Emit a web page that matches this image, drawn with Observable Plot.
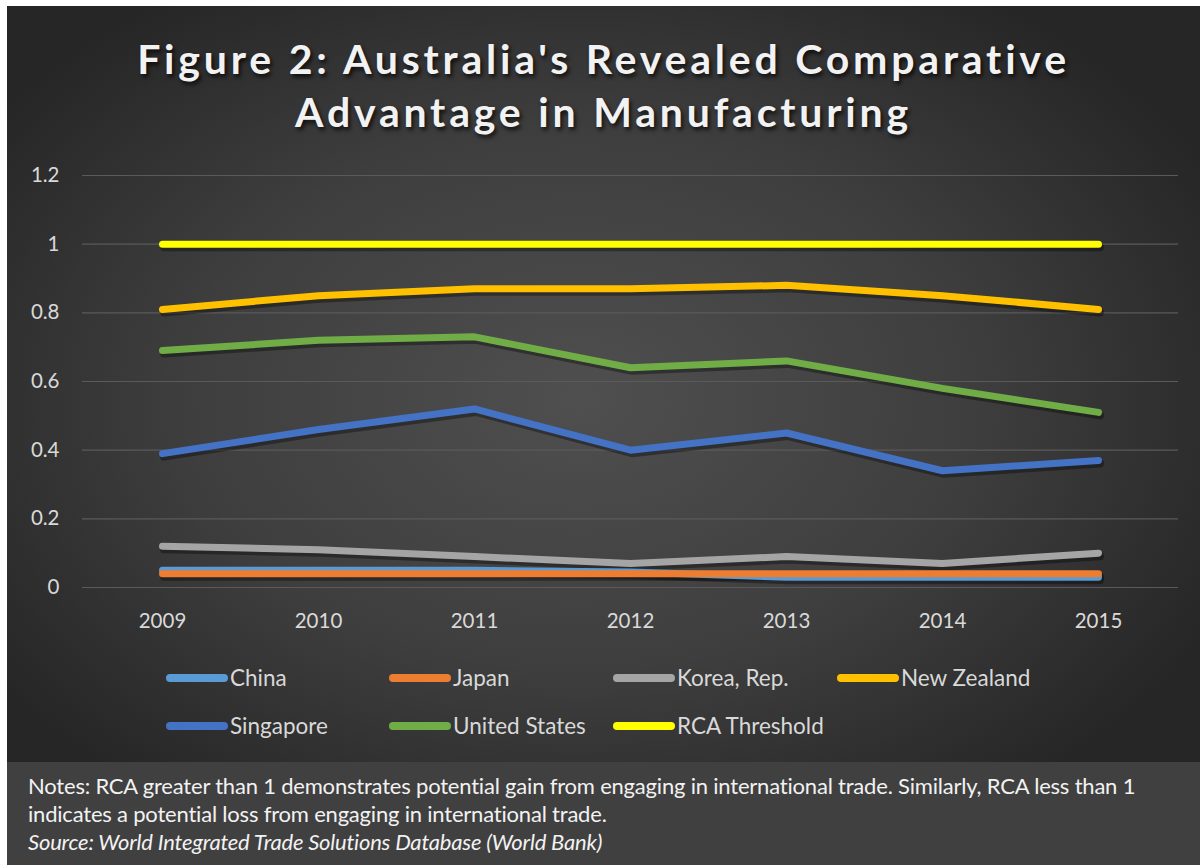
<!DOCTYPE html>
<html>
<head>
<meta charset="utf-8">
<script src="https://cdn.jsdelivr.net/npm/d3@7"></script>
<script src="https://cdn.jsdelivr.net/npm/@observablehq/plot@0.6"></script>
<style>
  html, body { margin: 0; padding: 0; background: #ffffff; }
  #page { position: relative; width: 1203px; height: 865px; overflow: hidden; background: #fff; font-family: Lato, "Open Sans", sans-serif; }
  #panel { position: absolute; left: 7px; top: 6px; width: 1193px; height: 756px;
    background: radial-gradient(ellipse 60% 65% at 48% 52%, #4f4f4f 0%, #3e3e3e 55%, #262626 100%); }
  #title { position: absolute; left: 0; top: 26px; width: 1193px; text-align: center; color: #f2f2f2;
    font-weight: 700; font-size: 41px; letter-spacing: 3.8px; line-height: 53px;
    text-shadow: 2px 3px 4px rgba(0,0,0,0.75); }
  #chart { position: absolute; left: 0; top: 144px; }
  #legend { position: absolute; left: 0; top: 0; width: 1193px; height: 756px; pointer-events: none; }
  .li { position: absolute; display: flex; align-items: center; color: #d9d9d9; font-size: 22.5px; white-space: nowrap; }
  .sw { width: 62px; height: 8px; border-radius: 4px; margin-right: 2px; }
  #notes { position: absolute; left: 7px; top: 762px; width: 1193px; height: 103px; background: #404040; color: #f2f2f2;
    font-size: 22px; line-height: 28px; letter-spacing: -0.2px; }
  #notes .t { position: absolute; left: 21px; top: 10px; white-space: nowrap; }
</style>
</head>
<body>
<div id="page">
  <div id="panel">
    <div id="title">Figure 2: Australia's Revealed Comparative<br>Advantage in Manufacturing</div>
    <div id="chart"></div>
    <div id="legend"></div>
  </div>
  <div id="notes"><div class="t">Notes: RCA greater than 1 demonstrates potential gain from engaging in international trade. Similarly, RCA less than 1<br>indicates a potential loss from engaging in international trade.<br><i>Source: World Integrated Trade Solutions Database (World Bank)</i></div></div>
</div>
<script>
const years = ["2009", "2010", "2011", "2012", "2013", "2014", "2015"];
const seriesNames = ["China", "Japan", "Korea, Rep.", "New Zealand", "Singapore", "United States", "RCA Threshold"];
const seriesColors = ["#5B9BD5", "#ED7D31", "#A5A5A5", "#FFC000", "#4472C4", "#70AD47", "#FFFF00"];
const china        = [0.05, 0.05, 0.05, 0.045, 0.03, 0.03, 0.03];
const japan        = [0.04, 0.04, 0.04, 0.04, 0.04, 0.04, 0.04];
const korea        = [0.12, 0.11, 0.09, 0.07, 0.09, 0.07, 0.10];
const newZealand   = [0.81, 0.85, 0.87, 0.87, 0.88, 0.85, 0.81];
const singapore    = [0.39, 0.46, 0.52, 0.40, 0.45, 0.34, 0.37];
const unitedStates = [0.69, 0.72, 0.73, 0.64, 0.66, 0.58, 0.51];
const rcaThreshold = [1, 1, 1, 1, 1, 1, 1];
const yTicks = [0, 0.2, 0.4, 0.6, 0.8, 1, 1.2];

const seriesValues = [china, japan, korea, newZealand, singapore, unitedStates, rcaThreshold];
const data = [];
seriesNames.forEach((name, i) => {
  years.forEach((yr, j) => data.push({series: name, year: yr, value: seriesValues[i][j]}));
});

const chart = Plot.plot({
  width: 1193,
  height: 500,
  marginTop: 25,
  marginBottom: 63,
  marginLeft: 75,
  marginRight: 22,
  style: { background: "transparent", color: "#d9d9d9", fontFamily: "Lato, 'Open Sans', sans-serif", fontSize: "20px", overflow: "visible" },
  x: { type: "point", domain: years, padding: 0.5, label: null },
  y: { domain: [0, 1.2], label: null },
  color: { domain: seriesNames, range: seriesColors },
  marks: [
    Plot.gridY(yTicks, { stroke: "#5a5a5a", strokeOpacity: 1, strokeWidth: 1.2 }),
    Plot.axisX({ tickSize: 0, tickPadding: 26, fontSize: 20.5, fill: "#d9d9d9", label: null }),
    Plot.axisY({ ticks: yTicks, tickSize: 0, tickPadding: 23, fontSize: 20.5, fill: "#d9d9d9", label: null, tickFormat: d => String(+d.toFixed(1)) }),
    Plot.line(data, { x: "year", y: "value", z: "series", stroke: "#000", strokeOpacity: 0.35, strokeWidth: 8, dx: 1.5, dy: 3, strokeLinecap: "round", strokeLinejoin: "round" }),
    Plot.line(data, { x: "year", y: "value", z: "series", stroke: "series", strokeWidth: 7, strokeLinecap: "round", strokeLinejoin: "round" })
  ]
});
document.getElementById("chart").appendChild(chart);

// Legend (HTML, two rows)
const legend = document.getElementById("legend");
const colX = [159, 382, 606, 830];
const rowY = [672, 720];
seriesNames.forEach((name, i) => {
  const el = document.createElement("div");
  el.className = "li";
  el.style.left = colX[i % 4] + "px";
  el.style.top = (rowY[Math.floor(i / 4)] - 14) + "px";
  const sw = document.createElement("div");
  sw.className = "sw";
  sw.style.background = seriesColors[i];
  const tx = document.createElement("span");
  tx.textContent = name;
  el.appendChild(sw); el.appendChild(tx);
  legend.appendChild(el);
});
</script>
</body>
</html>
